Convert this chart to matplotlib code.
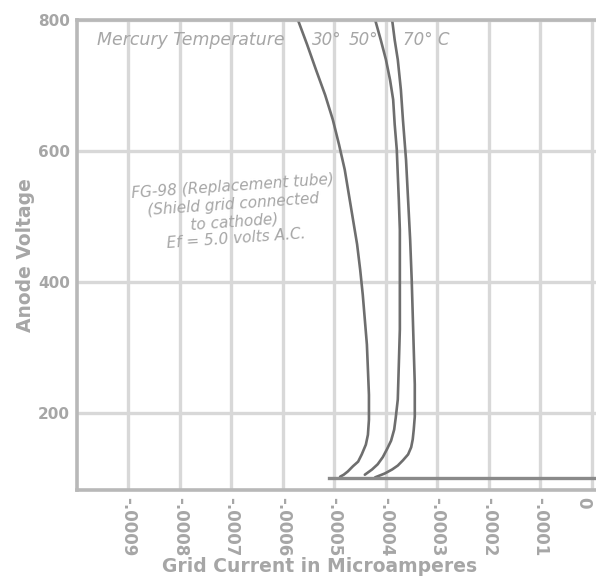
"""
plot.py — FG-98 grid current vs anode voltage at three mercury temperatures.

Saves out.png in the current directory.
"""

import matplotlib
matplotlib.use("Agg")
import matplotlib.pyplot as plt

# ── data ──────────────────────────────────────────────────────────────────────
# grid current in microamperes, anode voltage in volts
temp_labels = ["30°", "50°", "70° C"]

grid_30 = [-0.000571, -0.000553, -0.000536, -0.000518, -0.000503, -0.000491,
           -0.000480, -0.000472, -0.000464, -0.000456, -0.000450, -0.000445,
           -0.000441, -0.000437, -0.000435, -0.000433, -0.000433, -0.000435,
           -0.000439, -0.000447, -0.000454, -0.000464, -0.000474, -0.000482,
           -0.000489]
volt_30 = [800, 762, 724, 685, 647, 609, 571, 533, 495, 457, 418, 380, 342,
           304, 266, 227, 189, 166, 151, 136, 125, 118, 110, 105, 102]

grid_50 = [-0.000421, -0.000410, -0.000400, -0.000392, -0.000386, -0.000383,
           -0.000379, -0.000377, -0.000375, -0.000373, -0.000373, -0.000373,
           -0.000373, -0.000375, -0.000377, -0.000381, -0.000384, -0.000390,
           -0.000398, -0.000406, -0.000416, -0.000427, -0.000441]
volt_50 = [800, 769, 739, 708, 678, 640, 602, 563, 525, 479, 434, 380, 327,
           273, 220, 192, 174, 157, 144, 132, 121, 113, 105]

grid_70 = [-0.000388, -0.000383, -0.000377, -0.000371, -0.000367, -0.000361,
           -0.000357, -0.000353, -0.000350, -0.000348, -0.000346, -0.000344,
           -0.000344, -0.000346, -0.000348, -0.000351, -0.000357, -0.000367,
           -0.000377, -0.000388, -0.000402, -0.000421]
volt_70 = [800, 769, 739, 693, 647, 586, 525, 464, 403, 350, 296, 243, 194,
           174, 159, 147, 136, 127, 119, 113, 107, 101]

base_grid = [-0.000510, 0.00001]
base_volt = [100, 100]

x_ticks = [-0.0009, -0.0008, -0.0007, -0.0006, -0.0005,
           -0.0004, -0.0003, -0.0002, -0.0001, 0.0]
x_tick_labels = ["-.0009", "-.0008", "-.0007", "-.0006", "-.0005",
                 "-.0004", "-.0003", "-.0002", "-.0001", "0"]
y_ticks = [200, 400, 600, 800]

# ── style ─────────────────────────────────────────────────────────────────────
TEXT_C  = "#a6a6a6"
GRID_C  = "#d8d8d8"
FRAME_C = "#b8b8b8"
LINE_C  = "#6e6e6e"

fig = plt.figure(figsize=(5.96, 5.81), dpi=100)
ax = fig.add_axes([0.129, 0.157, 0.871, 0.809])

for gx, vy in [(grid_30, volt_30), (grid_50, volt_50), (grid_70, volt_70)]:
    ax.plot(gx, vy, color=LINE_C, lw=1.9, solid_capstyle="round")
ax.plot(base_grid, base_volt, color="#8a8a8a", lw=2.4)

ax.set_xlim(-0.0010, 0.0000078)
ax.set_ylim(82, 800)
ax.set_xticks(x_ticks)
ax.set_xticklabels(x_tick_labels, rotation=-90, fontsize=12,
                   color=TEXT_C, fontweight="bold")
ax.get_xticklabels()[-1].set_horizontalalignment("right")
ax.set_yticks(y_ticks)
ax.set_yticklabels([str(v) for v in y_ticks], fontsize=11,
                   color=TEXT_C, fontweight="bold")
ax.tick_params(length=0, pad=5)

ax.grid(True, color=GRID_C, lw=2.4)
ax.set_axisbelow(True)
for side in ["left", "bottom", "top"]:
    ax.spines[side].set_color(FRAME_C)
    ax.spines[side].set_linewidth(2.6)
ax.spines["right"].set_visible(False)

ax.set_xlabel("Grid Current in Microamperes", fontsize=13.5, color=TEXT_C,
              fontweight="bold")
ax.xaxis.set_label_coords(0.468, -0.143)
ax.set_ylabel("Anode Voltage", fontsize=13.5, color=TEXT_C,
              fontweight="bold", labelpad=2)

# ── annotations ───────────────────────────────────────────────────────────────
ax.text(-0.000961, 769, "Mercury Temperature", fontsize=12.5,
        style="italic", color=TEXT_C, va="center")
for tx, lab in zip([-0.000543, -0.000472, -0.000367], temp_labels):
    ax.text(tx, 769, lab, fontsize=12, style="italic", color=TEXT_C,
            va="center")

note = ("FG-98 (Replacement tube)\n(Shield grid connected\n"
        "to cathode)\nEf = 5.0 volts A.C.")
ax.text(-0.000695, 505, note, fontsize=11, style="italic", color=TEXT_C,
        ha="center", va="center", linespacing=1.2, rotation=4)

fig.savefig("out.png", dpi=100)
plt.close(fig)
